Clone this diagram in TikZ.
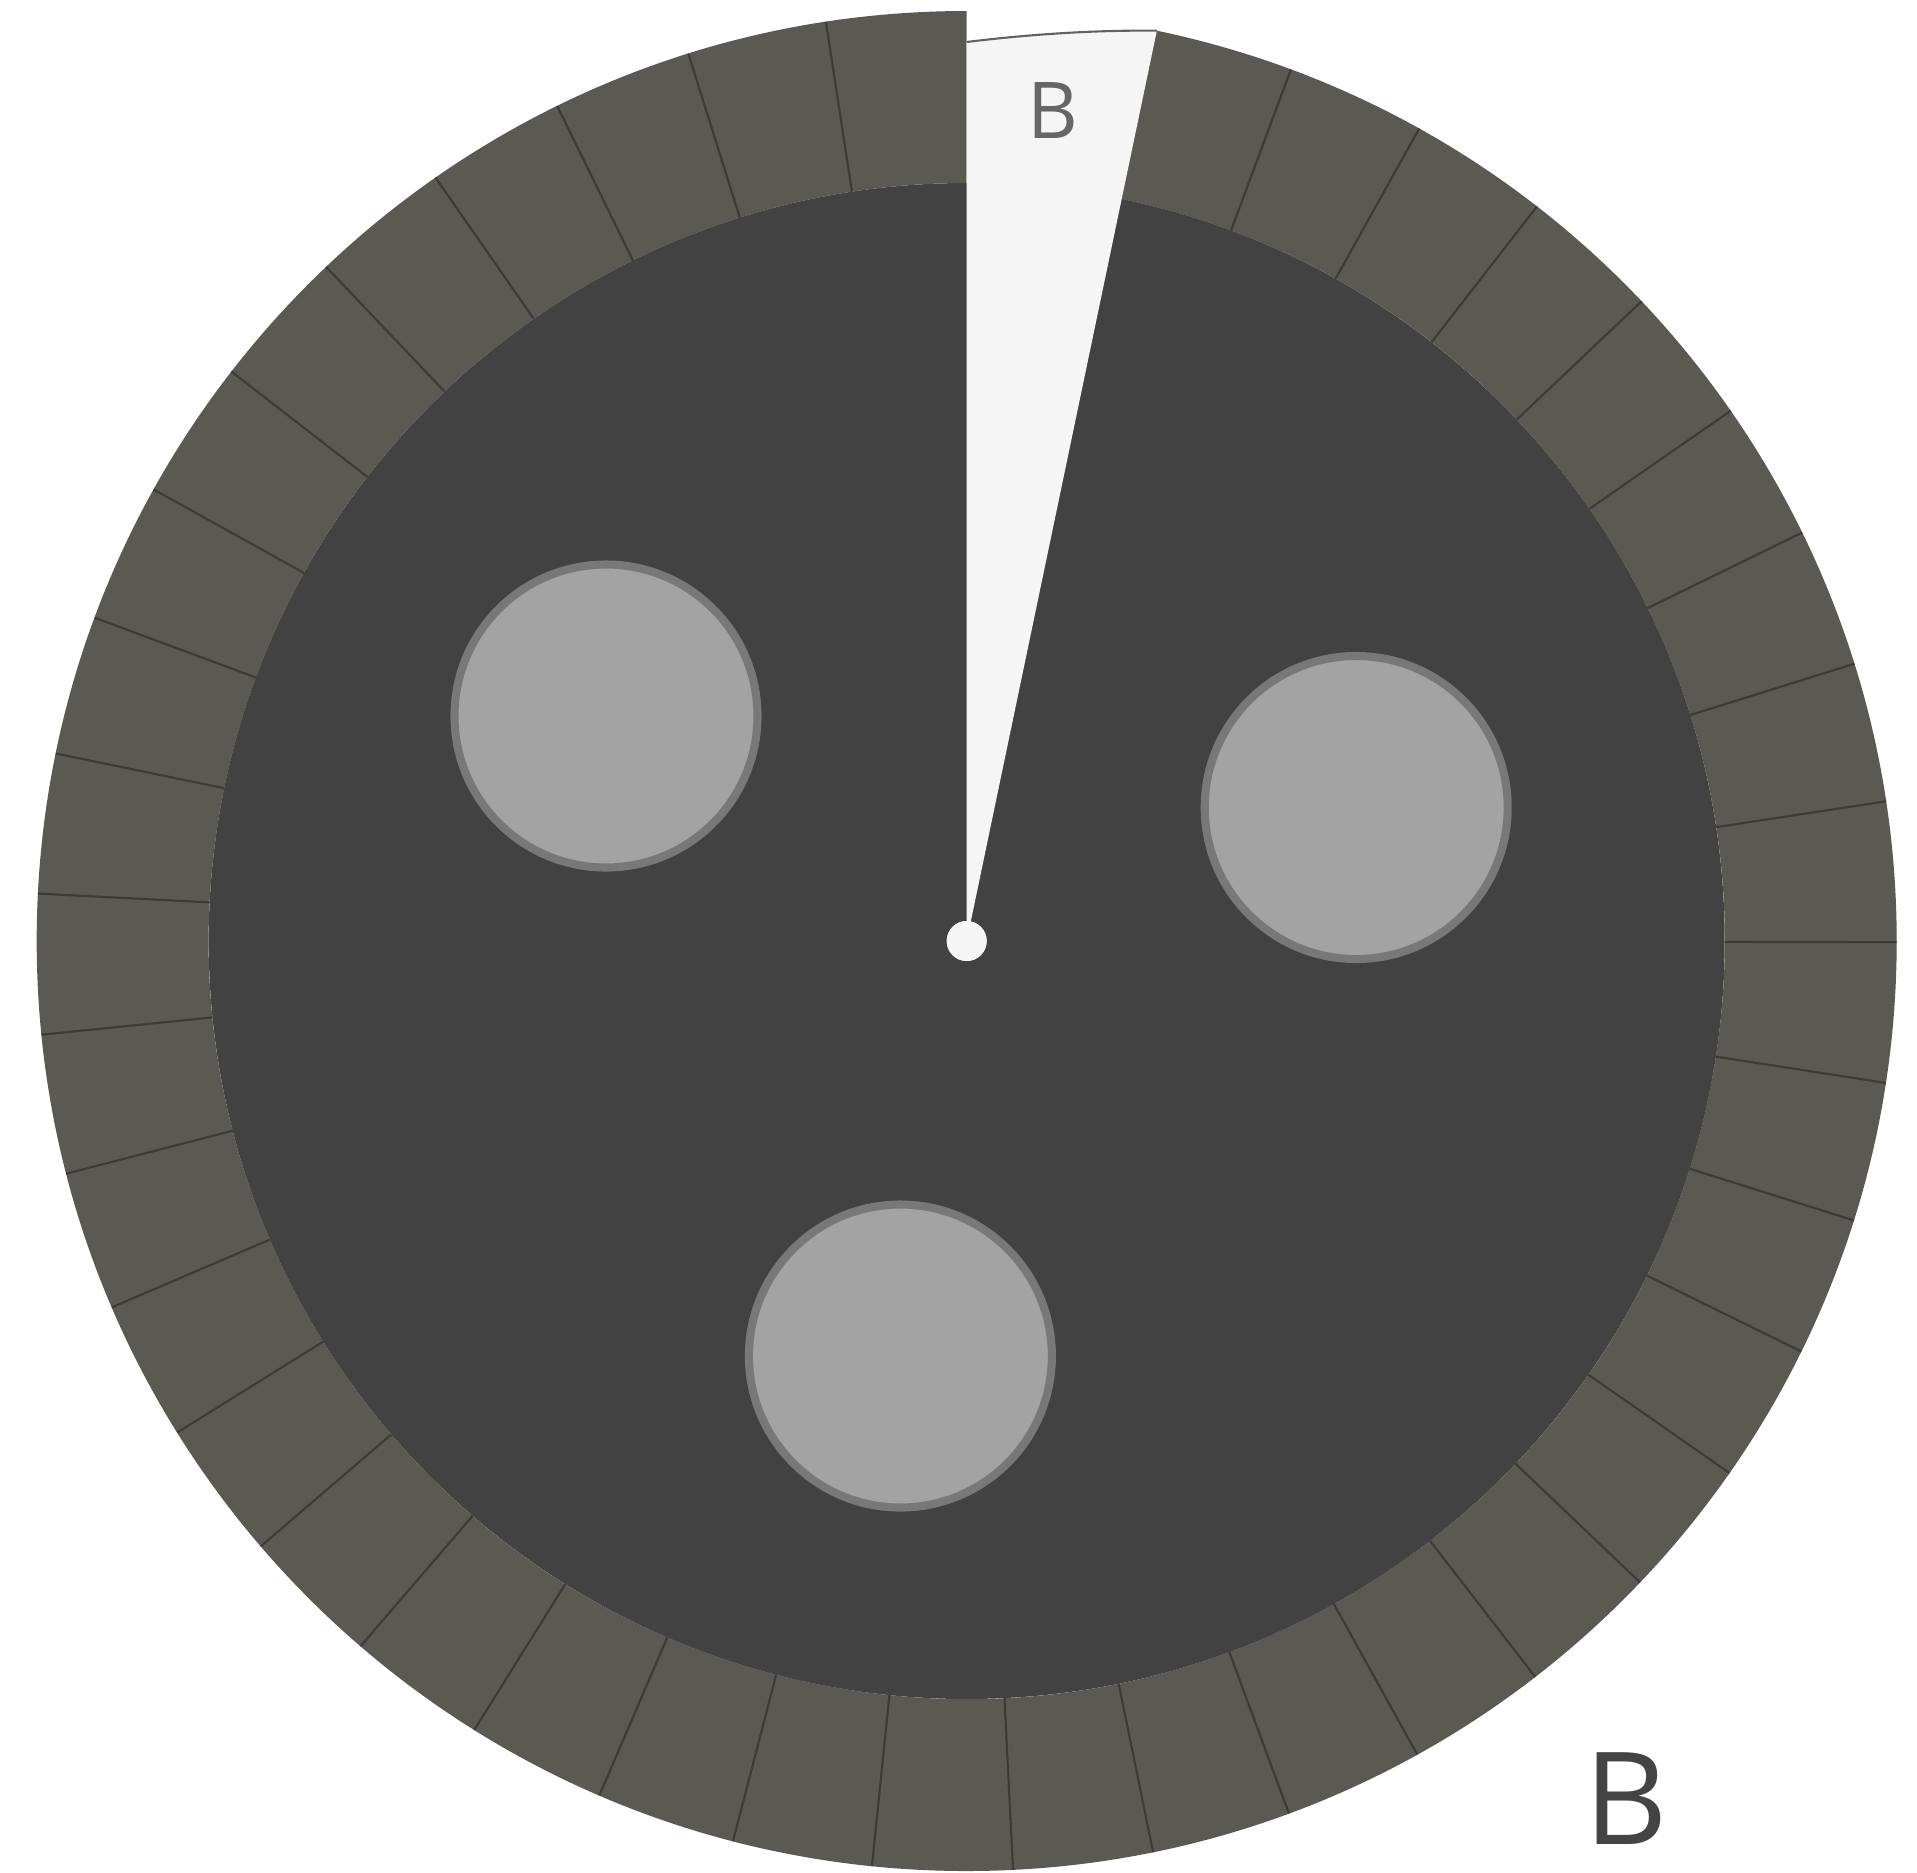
\documentclass[tikz,border=0pt]{standalone}
\usepackage{fontspec}
\setmainfont{Open Sans}
\usetikzlibrary{calc,positioning}
\definecolor{ringgrey}{HTML}{5A5952}
\definecolor{facegrey}{HTML}{424242}
\definecolor{knobgrey}{HTML}{A3A3A3}
\definecolor{knobrim}{HTML}{787878}
\definecolor{tickgrey}{HTML}{3E3A37}
\definecolor{wedgewhite}{HTML}{F5F5F5}
\definecolor{labelgrey}{HTML}{666666}
\definecolor{darklabel}{HTML}{444444}
\tikzset{
  ring/.style={fill=ringgrey, draw=none},
  tick/.style={line width=0.6pt, draw=tickgrey},
  wedge/.style={fill=wedgewhite, draw=none},
  wedgerim/.style={line width=0.6pt, draw=tickgrey!80},
  knob/.style={circle, fill=knobgrey, draw=knobrim, line width=2.3pt,
               minimum size=3.03cm, inner sep=0pt},
  hubdot/.style={circle, fill=wedgewhite, minimum size=0.4cm, inner sep=0pt},
  slicetext/.style={inner sep=0pt, text=labelgrey, font=\fontsize{22.3}{24}\selectfont},
  cornertext/.style={inner sep=0pt, text=darklabel, font=\fontsize{36.6}{40}\selectfont}
}

\begin{document}
\begin{tikzpicture}
  \useasboundingbox (-9.667,-9.31) rectangle (9.503,9.41);
  % face and segmented rim
  \fill[facegrey] (0,0) circle (7.58);
  \fill[ring] (90:7.58) -- (90:9.30) arc[start angle=90, end angle=438.3, radius=9.30]
    -- (438.3:7.58) arc[start angle=438.3, end angle=90, radius=7.58] -- cycle;
  \foreach \k in {1,...,39}
    \draw[tick] ({90+\k*8.7075}:7.58) -- ({90+\k*8.7075}:9.30);
  % pointer slice
  \node[hubdot] (hub) at (0,0) {};
  \coordinate (tipL) at (90:8.99);
  \coordinate (tipR) at (78.2:9.30);
  \fill[wedge] (hub.center) -- (tipL) .. controls (0.65,9.07) and (1.3,9.11) .. (tipR) -- cycle;
  \draw[wedgerim] (tipL) .. controls (0.65,9.07) and (1.3,9.11) .. (tipR);
  \node[hubdot] at (hub) {};
  \node[slicetext] (slicelabel) at (0.863,8.30) {B};
  % knobs
  \node[knob] (knobA) at (-3.607, 2.25) {};
  \node[knob] (knobB) at ( 3.895, 1.335) {};
  \node[knob] (knobC) at (-0.663,-4.15) {};
  \node[cornertext] (cornerlabel) at (6.593,-8.58) {B};
\end{tikzpicture}
\end{document}
